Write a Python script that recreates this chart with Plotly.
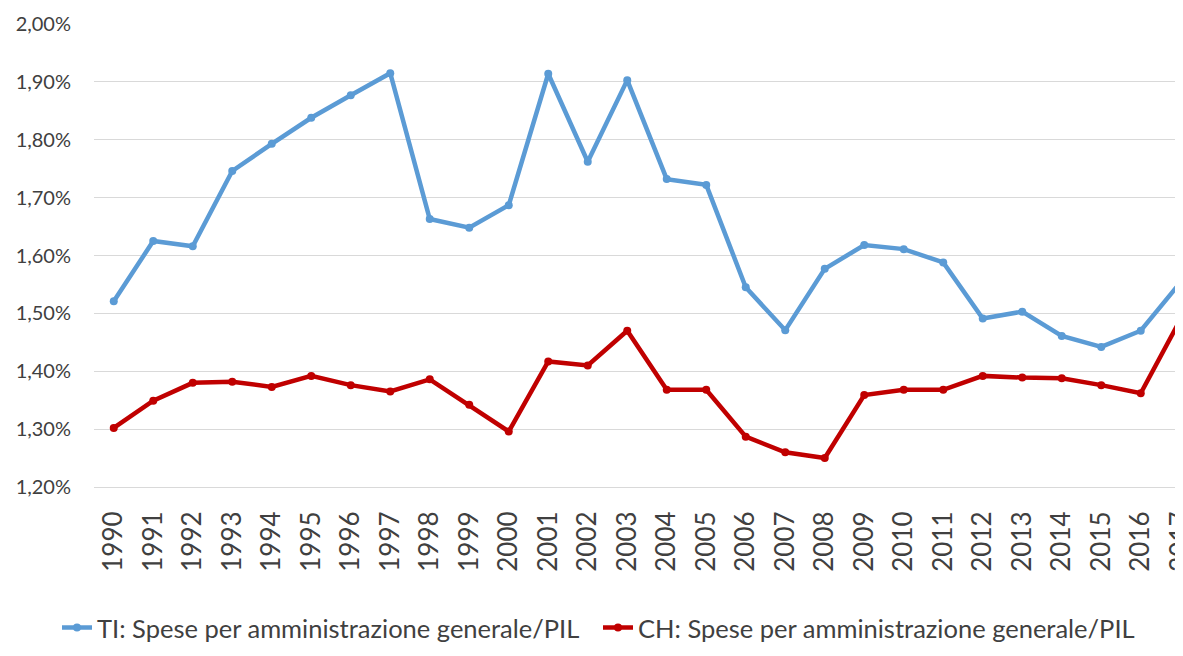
import plotly.graph_objects as go

years = [str(y) for y in range(1990, 2018)]
ti_values = [1.521, 1.625, 1.616, 1.746, 1.793, 1.838, 1.877, 1.915, 1.663, 1.648,
             1.687, 1.914, 1.762, 1.903, 1.732, 1.722, 1.545, 1.471, 1.577, 1.618,
             1.611, 1.588, 1.491, 1.503, 1.461, 1.442, 1.470, 1.553]
ch_values = [1.302, 1.349, 1.380, 1.382, 1.373, 1.392, 1.376, 1.365, 1.386, 1.342,
             1.296, 1.417, 1.410, 1.470, 1.368, 1.368, 1.287, 1.260, 1.250, 1.359,
             1.368, 1.368, 1.392, 1.389, 1.388, 1.376, 1.362, 1.489]
ti_name = "TI: Spese per amministrazione generale/PIL"
ch_name = "CH: Spese per amministrazione generale/PIL"
y_ticks = [1.2, 1.3, 1.4, 1.5, 1.6, 1.7, 1.8, 1.9, 2.0]
y_tick_labels = ["1,20%", "1,30%", "1,40%", "1,50%", "1,60%", "1,70%", "1,80%", "1,90%", "2,00%"]

blue = "#5B9BD5"
red = "#C00000"

fig = go.Figure()
fig.add_trace(go.Scatter(x=years, y=ti_values, name=ti_name, mode="lines+markers",
                         line=dict(color=blue, width=4.5), marker=dict(size=8, color=blue)))
fig.add_trace(go.Scatter(x=years, y=ch_values, name=ch_name, mode="lines+markers",
                         line=dict(color=red, width=4.5), marker=dict(size=8, color=red)))

fig.update_layout(
    width=1175, height=648,
    margin=dict(l=86, r=0, t=16, b=169, autoexpand=False),
    paper_bgcolor="white", plot_bgcolor="white",
    font=dict(family="Lato, 'Open Sans', sans-serif", size=20, color="#404040"),
    showlegend=True,
    legend=dict(orientation="h", xref="container", yref="container",
                x=0.0417, y=0.0432, xanchor="left", yanchor="middle",
                font=dict(size=25.5, color="#404040"), entrywidth=496,
                itemwidth=30),
    xaxis=dict(type="category", range=[-0.5, 27.07], tickangle=-90,
               showgrid=False, showline=True, linecolor="#d9d9d9", linewidth=1,
               ticks="", ticklabelstandoff=13, tickfont=dict(size=26, color="#404040")),
    yaxis=dict(range=[1.2, 2.0], tickvals=y_ticks, ticktext=y_tick_labels,
               showgrid=True, gridcolor="#d9d9d9", gridwidth=1, zeroline=False,
               showline=False, ticks="", ticklabelstandoff=22,
               tickfont=dict(size=20, color="#404040")),
)

fig.write_html("out.html")
